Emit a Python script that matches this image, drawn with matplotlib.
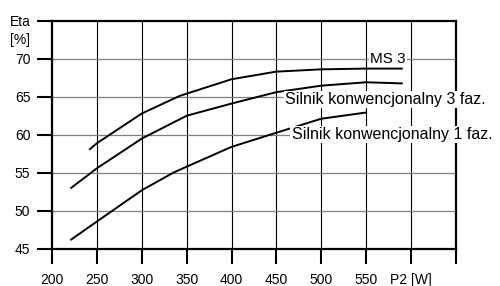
import numpy as np
import matplotlib
matplotlib.use('Agg')
import matplotlib.pyplot as plt

# krzywe sprawnosci
p_ms3 = [242, 250, 300, 342, 400, 450, 500, 550, 590]
eta_ms3 = [58.1, 58.9, 62.8, 65.1, 67.3, 68.3, 68.6, 68.7, 68.7]

p_3f = [221, 250, 300, 350, 400, 450, 500, 550, 590]
eta_3f = [53.0, 55.6, 59.5, 62.5, 64.1, 65.6, 66.45, 66.9, 66.75]

p_1f = [221, 250, 300, 335, 350, 400, 443, 500, 549]
eta_1f = [46.2, 48.6, 52.7, 55.0, 55.8, 58.4, 60.0, 62.1, 62.9]

x_ticks = [200, 250, 300, 350, 400, 450, 500, 550, 600, 650]
x_labels = ['200', '250', '300', '350', '400', '450', '500', '550', 'P2 [W]', '']
y_ticks = [45, 50, 55, 60, 65, 70, 75]
y_labels = ['45', '50', '55', '60', '65', '70', 'Eta']

plt.rcParams['font.family'] = ['Liberation Sans', 'DejaVu Sans']
plt.rcParams['font.size'] = 10

fig = plt.figure(figsize=(5.0, 2.86), dpi=100)
ax = fig.add_axes([0.1046, 0.1304, 0.8066, 0.7972])

ax.set_xlim(200, 650)
ax.set_ylim(45, 75)

# siatka: pionowe czarne, poziome szare
for x in x_ticks[1:-1]:
    ax.axvline(x, color='black', lw=0.8, zorder=1)
for y in y_ticks[1:-1]:
    ax.axhline(y, color='#808080', lw=0.9, zorder=1)

ax.plot(p_ms3, eta_ms3, color='black', lw=1.4, zorder=3)
ax.plot(p_3f, eta_3f, color='black', lw=1.4, zorder=3)
ax.plot(p_1f, eta_1f, color='black', lw=1.4, zorder=3)

bb = dict(facecolor='white', edgecolor='none', pad=0.8)
ax.text(555, 69.5, 'MS 3', ha='left', va='baseline', fontsize=11,
        bbox=bb, zorder=4, clip_on=False)
ax.text(459.5, 64.05, 'Silnik konwencjonalny 3 faz.', ha='left', va='baseline',
        fontsize=11.5, bbox=bb, zorder=4, clip_on=False)
ax.text(467, 59.4, 'Silnik konwencjonalny 1 faz.', ha='left', va='baseline',
        fontsize=11.5, bbox=bb, zorder=4, clip_on=False)

ax.set_xticks(x_ticks)
ax.set_xticklabels(x_labels)
ax.set_yticks(y_ticks)
ax.set_yticklabels(y_labels)
ax.tick_params(axis='both', length=10.8, width=1.5, pad=5, color='black')
ax.tick_params(axis='x', pad=6.5)

for s in ax.spines.values():
    s.set_linewidth(1.6)

ax.annotate('[%]', xy=(0, 72.4), xycoords=('axes fraction', 'data'),
            xytext=(-15.8, 0), textcoords='offset points', ha='right', va='center')

fig.savefig('out.png', dpi=100)
